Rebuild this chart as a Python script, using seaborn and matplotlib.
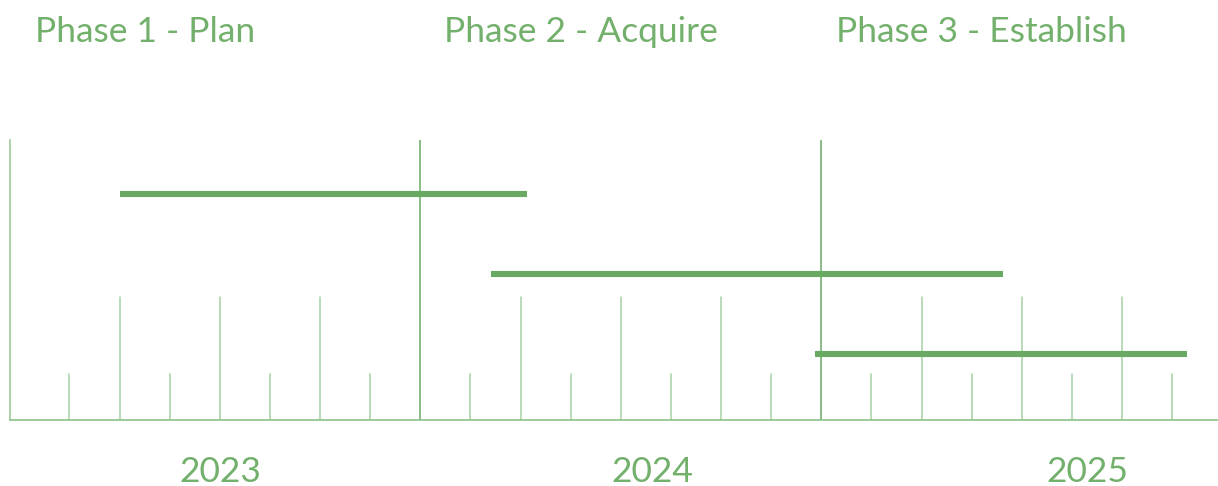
import numpy as np
import pandas as pd
import matplotlib
matplotlib.use("Agg")
import matplotlib.pyplot as plt
import matplotlib.transforms as mtransforms
import seaborn as sns

# ---------------- data ----------------
tasks = ["Task A", "Task B", "Task C"]
task_start = [3.0, 14.1, 23.8]      # months from Jan 2023
task_end = [15.2, 29.45, 34.95]

phase_labels = ["Phase 1 - Plan", "Phase 2 - Acquire", "Phase 3 - Establish"]
year_labels = ["2023", "2024", "2025"]
year_label_pos = [6.0, 18.95, 31.95]

minor_ticks = [1.5, 4.5, 7.5, 10.5, 13.5, 16.5, 19.5, 22.5, 25.5, 28.5, 31.5, 34.5]
major_ticks = [3, 6, 9, 15, 18, 21, 27, 30, 33]
year_bounds = [12, 24]

# ---------------- style ----------------
sns.set_theme(style="white")
plt.rcParams["font.family"] = ["Lato", "DejaVu Sans"]

GREEN = "#69aa63"
TEXT = "#72b06c"
TICK = "#a6d1a3"
SPINE_B = "#8cc088"
SPINE_L = "#9fcc9b"

W, H = 1218, 486
fig = plt.figure(figsize=(W / 100, H / 100), dpi=100)
left_px, right_px, top_px, bot_px = 10, 1218, 140, 420
ax = fig.add_axes([left_px / W, (H - bot_px) / H, (right_px - left_px) / W, (bot_px - top_px) / H])

df = pd.DataFrame({
    "task": np.repeat(tasks, 2),
    "month": np.ravel(np.column_stack([task_start, task_end])),
    "lane": np.repeat(np.arange(len(tasks)), 2),
})
sns.lineplot(data=df, x="month", y="lane", units="task", estimator=None, sort=False,
             color=GREEN, linewidth=4.4, solid_capstyle="butt", ax=ax, legend=False)

ax.set_xlim(-0.28, 35.87)
ax.set_ylim(2.825, -0.675)

for m in minor_ticks:
    ax.axvline(m, ymin=0, ymax=46 / 280, color=TICK, lw=1.1, zorder=1)
for m in major_ticks:
    ax.axvline(m, ymin=0, ymax=123 / 280, color=TICK, lw=1.1, zorder=1)
for m in year_bounds:
    ax.axvline(m, ymin=0, ymax=1, color=GREEN, lw=1.1, zorder=1)

for s in ["top", "right"]:
    ax.spines[s].set_visible(False)
ax.spines["bottom"].set_color(SPINE_B)
ax.spines["bottom"].set_linewidth(1.2)
ax.spines["left"].set_color(SPINE_L)
ax.spines["left"].set_linewidth(1.2)
ax.set_xticks([])
ax.set_yticks([])
ax.set_xlabel("")
ax.set_ylabel("")
ax.patch.set_alpha(0)

# year labels
trans = mtransforms.blended_transform_factory(ax.transData, fig.transFigure)
for lab, pos in zip(year_labels, year_label_pos):
    ax.text(pos, (H - 482) / H, lab, transform=trans, ha="center", va="baseline",
            fontsize=25.5, color=TEXT, fontweight="normal")

# phase labels
phase_x = [35, 444, 836]
for lab, px in zip(phase_labels, phase_x):
    fig.text(px / W, (H - 42.5) / H, lab, ha="left", va="baseline",
             fontsize=25.5, color=TEXT, fontweight="normal")

fig.savefig("out.png", dpi=100)
